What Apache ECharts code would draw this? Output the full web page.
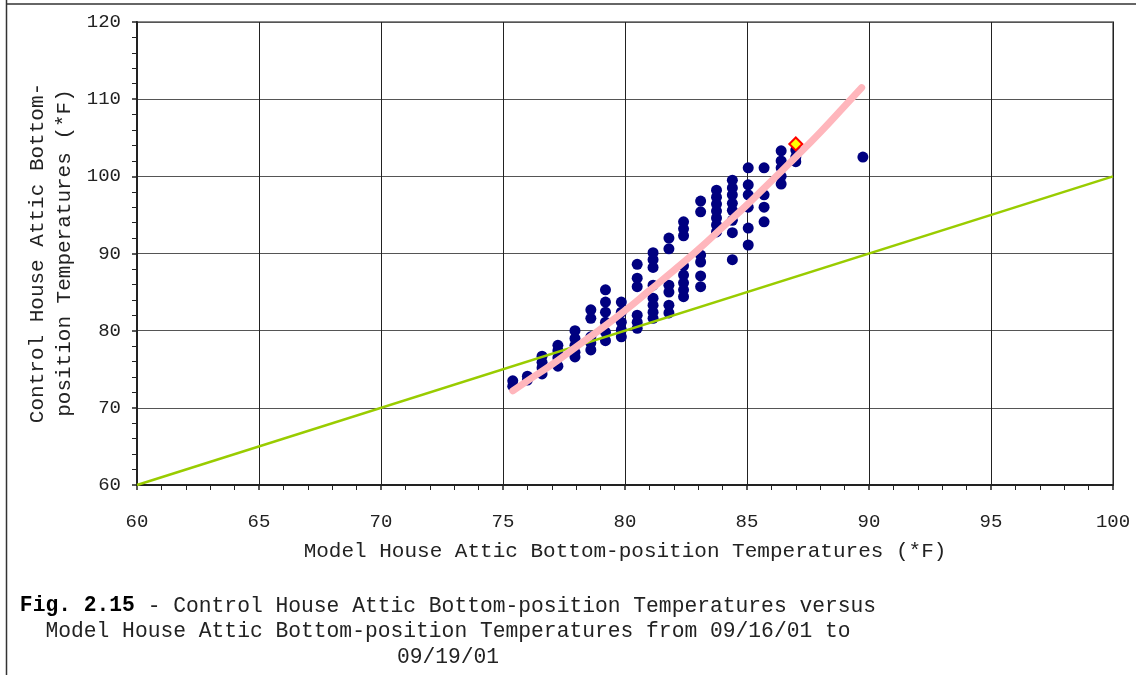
<!DOCTYPE html>
<html><head><meta charset="utf-8">
<script src="https://cdn.jsdelivr.net/npm/echarts@6/dist/echarts.min.js"></script>
<style>html,body{margin:0;padding:0;background:#fff}#c{width:1136px;height:675px}</style>
</head><body><div id="c"></div>
<script>
// Model house (x) temperature columns and the control house (y) readings at each
const modelCols = [75.4, 76.0, 76.6, 77.25, 77.95, 78.6, 79.2, 79.85, 80.5, 81.15, 81.8, 82.4, 83.1, 83.75, 84.4, 85.05, 85.7, 86.4, 87.0, 89.75];
const controlCols = [
  [73.5, 72.8],
  [74.1, 73.6],
  [76.7, 75.9, 75.2, 74.4],
  [78.1, 77.4, 76.5, 75.4],
  [80.0, 79.0, 78.1, 77.2, 76.6],
  [82.7, 81.6, 79.2, 78.4, 77.5],
  [85.3, 83.7, 82.4, 81.1, 79.8, 78.7],
  [83.7, 82.4, 81.1, 80.1, 79.2],
  [88.6, 86.8, 85.7, 82.0, 81.1, 80.3],
  [90.1, 89.2, 88.2, 85.9, 84.2, 83.3, 82.4, 81.6],
  [92.0, 90.6, 85.9, 85.0, 83.3, 82.3],
  [94.1, 93.2, 92.3, 88.4, 87.2, 86.2, 85.3, 84.4],
  [96.8, 95.4, 89.8, 88.9, 87.1, 85.7],
  [98.2, 97.3, 96.4, 95.5, 94.6, 93.7, 92.8],
  [99.5, 98.5, 97.6, 96.5, 95.6, 94.3, 92.7, 89.2],
  [101.1, 98.9, 97.6, 96.0, 93.3, 91.1],
  [101.1, 97.6, 96.0, 94.1],
  [103.3, 102.0, 101.1, 100.0, 99.0],
  [103.4, 102.5, 101.9],
  [102.5]
];
// trend curve
const trendX = [75.4, 76, 77, 78, 79, 80, 81, 82, 83, 84, 85, 86, 87, 88, 89, 89.7];
const trendY = [72.2, 73.5, 75.6, 77.9, 80.2, 82.6, 85.2, 87.8, 90.5, 93.4, 96.3, 99.4, 102.5, 105.7, 109.1, 111.5];
// equality line
const equalX = [60, 100];
const equalY = [60, 100];
// highlighted point
const markX = [87.0];
const markY = [104.2];

const xTicks = {min: 60, max: 100, interval: 5};
const yTicks = {min: 60, max: 120, interval: 10};

const scatterData = [];
modelCols.forEach((x, i) => controlCols[i].forEach(y => scatterData.push([x, y])));

const FONT = '"Liberation Mono", "DejaVu Sans Mono", monospace';
const chart = echarts.init(document.getElementById('c'));
chart.setOption({
  animation: false,
  backgroundColor: '#fff',
  grid: {left: 137, right: 23, top: 22, bottom: 190, show: true, borderColor: '#888', borderWidth: 2},
  xAxis: {
    type: 'value', min: xTicks.min, max: xTicks.max, interval: xTicks.interval,
    axisLine: {show: true, onZero: false, lineStyle: {color: '#222', width: 2}},
    axisTick: {show: true, length: 5, lineStyle: {color: '#222', width: 1.5}},
    minorTick: {show: true, splitNumber: 5, length: 5, lineStyle: {color: '#222', width: 1}},
    splitLine: {show: true, lineStyle: {color: '#222', width: 1}},
    axisLabel: {fontFamily: FONT, fontSize: 19, color: '#222', margin: 27},
    name: 'Model House Attic Bottom-position Temperatures (*F)',
    nameLocation: 'middle', nameGap: 56,
    nameTextStyle: {fontFamily: FONT, fontSize: 21, color: '#222'}
  },
  yAxis: {
    type: 'value', min: yTicks.min, max: yTicks.max, interval: yTicks.interval,
    axisLine: {show: true, onZero: false, lineStyle: {color: '#222', width: 2}},
    axisTick: {show: true, length: 5, lineStyle: {color: '#222', width: 1.5}},
    minorTick: {show: true, splitNumber: 5, length: 5, lineStyle: {color: '#222', width: 1}},
    splitLine: {show: true, lineStyle: {color: '#555', width: 1}},
    axisLabel: {fontFamily: FONT, fontSize: 19, color: '#222', margin: 16}
  },
  graphic: [
    {type: 'line', shape: {x1: 6.5, y1: 0, x2: 6.5, y2: 675}, style: {stroke: '#333', lineWidth: 1.5}, silent: true},
    {type: 'line', shape: {x1: 6, y1: 4, x2: 1136, y2: 4}, style: {stroke: '#333', lineWidth: 1.5}, silent: true},
    {type: 'text', x: 51, y: 253, rotation: Math.PI / 2,
      style: {text: 'Control House Attic Bottom-\nposition Temperatures (*F)', font: '21px ' + FONT, fill: '#222', align: 'center', verticalAlign: 'middle', lineHeight: 27}},
    {type: 'text', x: 448, y: 606,
      style: {text: '{b|Fig. 2.15} - Control House Attic Bottom-position Temperatures versus', font: '21.3px ' + FONT, fill: '#222', align: 'center', verticalAlign: 'middle',
        rich: {b: {fontFamily: FONT, fontSize: 21.3, fontWeight: 'bold', fill: '#000'}}}},
    {type: 'text', x: 448, y: 631,
      style: {text: 'Model House Attic Bottom-position Temperatures from 09/16/01 to', font: '21.3px ' + FONT, fill: '#222', align: 'center', verticalAlign: 'middle'}},
    {type: 'text', x: 448, y: 657,
      style: {text: '09/19/01', font: '21.3px ' + FONT, fill: '#222', align: 'center', verticalAlign: 'middle'}}
  ],
  series: [
    {type: 'scatter', data: scatterData, symbol: 'circle', symbolSize: 11, itemStyle: {color: '#000080', opacity: 1}, z: 2},
    {type: 'line', data: equalX.map((x, i) => [x, equalY[i]]), symbol: 'none', lineStyle: {color: '#99cc00', width: 2.5}, z: 3},
    {type: 'line', data: trendX.map((x, i) => [x, trendY[i]]), symbol: 'none', smooth: true, lineStyle: {color: '#ffb6bc', width: 7, cap: 'round'}, z: 4},
    {type: 'scatter', data: markX.map((x, i) => [x, markY[i]]), symbol: 'diamond', symbolSize: [13, 13], itemStyle: {color: '#ffff00', borderColor: '#ff0000', borderWidth: 2, opacity: 1}, z: 5}
  ]
});
</script></body></html>
